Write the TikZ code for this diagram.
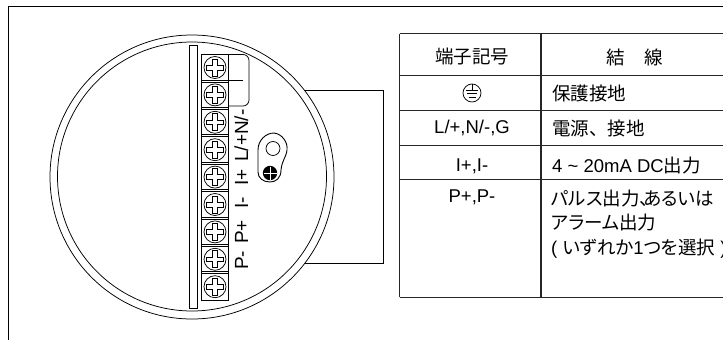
\documentclass[tikz,border=0pt]{standalone}
\usepackage{fontspec}
\setmainfont{Liberation Sans}
\newfontfamily\cjk{Noto Sans CJK JP}
\newfontfamily\cjkp[RawFeature=+palt]{Noto Sans CJK JP}
\tikzset{
  ln/.style={draw=black,line width=0.75pt},
  tb/.style={draw=black!85,line width=0.9pt},
  lab/.style={font=\fontsize{18.5pt}{22pt}\selectfont,text=black,inner sep=0pt},
  tx/.style={font=\fontsize{18.5pt}{24.5pt}\selectfont,text=black,inner sep=0pt,align=left,anchor=west},
  term/.style={font=\fontsize{19pt}{22pt}\selectfont,rotate=90,inner sep=0pt,anchor=base west,text=black},
  pics/screw/.style={code={
    \draw[ln] (0,0) circle (11);
    \draw[ln] (-8.5,2.4)--(-2.4,2.4)--(-2.4,8.5)--(2.4,8.5)--(2.4,2.4)--(8.5,2.4)--(8.5,-2.4)--(2.4,-2.4)--(2.4,-8.5)--(-2.4,-8.5)--(-2.4,-2.4)--(-8.5,-2.4)--cycle;
  }}
}
\begin{document}
\begin{tikzpicture}[x=1pt,y=-1pt]
\useasboundingbox (0,0) rectangle (723,340);
\fill[white] (0,0) rectangle (723,340);
% frame
\draw[ln,line width=0.85pt] (8.5,340)--(8.5,6.5)--(723,6.5);
% housing side
\draw[ln] (305,90)--(383,90)--(383,263)--(305,263);
% body
\fill[white] (192,177) circle (142);
\draw[ln] (192,177) circle (142);
\draw[ln] (192,176.5) circle (134.5);
% bar
\draw[ln] (189.5,45.5) rectangle (197,308);
% terminal block
\draw[ln] (201,54.5) rectangle (228.5,300);
\foreach \i in {0,...,8}{
  \pic at (215,{67.5+27.4*\i}) {screw};
}
\foreach \i in {0,...,7}{
  \draw[ln] (201,{80+27.4*\i})--(228.5,{80+27.4*\i});
  \draw[ln] (201,{82+27.4*\i})--(228.5,{82+27.4*\i});
}
\draw[ln] (228.5,54.5)--(243,54.5) arc[start angle=-90,end angle=0,radius=6] -- (249,100) arc[start angle=0,end angle=90,radius=6] -- (228.5,106);
\draw[ln,line width=1.1pt] (228.5,80.5)--(243,80.5);
% labels
\node[term] (t1) at (248,162) {L/+N/-};
\node[term] (t2) at (248,186) {I+};
\node[term] (t3) at (248,209) {I-};
\node[term] (t4) at (248,244) {P+};
\node[term] (t5) at (248,270) {P-};
% lug
\draw[ln,line width=0.9pt] (258,150) .. controls (258,140) and (266,133) .. (274,133) .. controls (282,134) and (288,142) .. (287,150) .. controls (286,158) and (282,160) .. (281,170) .. controls (281,178) and (276,182) .. (270,182) .. controls (263,182) and (258,178) .. (258,172) -- cycle;
\draw[ln] (273,148.5) circle (7);
\fill[black] (270,173) circle (7.2);
\draw[white,line width=0.7pt] (263.5,173)--(276.5,173) (270,166.5)--(270,179.5);
% table
\draw[tb] (399.5,33.5)--(723,33.5);
\draw[tb] (399.5,75)--(723,75);
\draw[tb] (399.5,110)--(723,110);
\draw[tb] (399.5,145)--(723,145);
\draw[tb] (399.5,179)--(723,179);
\draw[tb] (399.5,297)--(723,297);
\draw[tb] (399.5,33.5)--(399.5,297);
\draw[tb,line width=1.1pt] (541,33.5)--(541,297);
\node[lab,font=\fontsize{18.5pt}{22pt}\selectfont\cjk] (h1) at (472,57) {端子記号};
\node[lab,font=\fontsize{18.5pt}{22pt}\selectfont\cjk] (h2) at (635,57) {結\hspace{1.05em}線};
% earth symbol
\node[circle,draw=black,line width=0.75pt,minimum size=18pt,inner sep=0pt] (e) at (472,93) {};
\draw[ln] (472,84)--(472,90) (466,90)--(478,90) (467,93.5)--(477,93.5) (468.5,97)--(475.5,97);
\node[tx,font=\fontsize{18.5pt}{24.5pt}\selectfont\cjk] (a) at (552,93) {保護接地};
\node[lab] (l2) at (472,128) {L/+,N/-,G};
\node[tx,font=\fontsize{18.5pt}{24.5pt}\selectfont\cjk] (b) at (552,128) {電源、接地};
\node[lab] (l3) at (472,166) {I+,I-};
\node[tx] (c2) at (552,166) {4 \textasciitilde{} 20mA DC{\cjk 出力}};
\node[lab] (l4) at (472,197) {P+,P-};
\node[tx,anchor=north west] (d) at (551,189.5) {{\cjkp パルス出力、\hspace{-0.3em}あるいは}\\{\cjkp アラーム出力}\\( {\cjkp いずれか}1{\cjkp つを選択} )};
\end{tikzpicture}
\end{document}
